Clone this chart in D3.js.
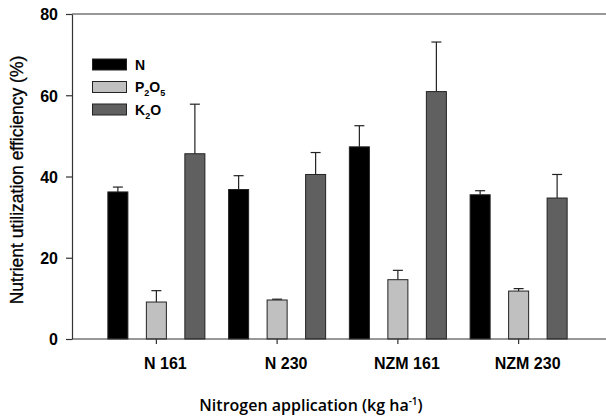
<!DOCTYPE html>
<html><head><meta charset="utf-8">
<script src="https://cdn.jsdelivr.net/npm/d3@7"></script>
<style>body{margin:0;background:#fff}svg{display:block}</style>
</head><body>
<svg id="c" width="606" height="418"></svg>
<script>
const categories = ["N 161", "N 230", "NZM 161", "NZM 230"];
const seriesNames = ["N", "P2O5", "K2O"];
const valuesN = [36.2, 36.8, 47.3, 35.5];
const valuesP = [9.1, 9.6, 14.6, 11.8];
const valuesK = [45.6, 40.5, 60.9, 34.7];
const errN = [1.2, 3.4, 5.2, 1.0];
const errP = [2.8, 0.2, 2.3, 0.6];
const errK = [12.2, 5.4, 12.2, 5.8];
const yTicks = [0, 20, 40, 60, 80];
const colors = ["#000000", "#c0c0c0", "#606060"];

const FONT = "'Liberation Sans', Arial, Helvetica, sans-serif";
const vals = [valuesN, valuesP, valuesK];
const errs = [errN, errP, errK];
const svg = d3.select("#c");
const x0 = d3.scaleBand().domain(categories).range([96, 579]).padding(0);
const x1 = d3.scaleBand().domain(seriesNames).range([-57.75, 57.75]).paddingInner(0.48).paddingOuter(0.24);
const y = d3.scaleLinear().domain([0, 80]).range([339, 14]);

// frame lines
svg.append("line").attr("x1", 72).attr("x2", 606).attr("y1", 14).attr("y2", 14).attr("stroke", "#333").attr("stroke-width", 1.2);

// bars
categories.forEach((c, i) => {
  const cx = x0(c) + x0.bandwidth() / 2;
  seriesNames.forEach((s, j) => {
    const v = vals[j][i], e = errs[j][i];
    const bx = cx + x1(s);
    const mid = bx + x1.bandwidth() / 2;
    svg.append("line").attr("x1", mid).attr("x2", mid).attr("y1", y(v)).attr("y2", y(v + e)).attr("stroke", "#222").attr("stroke-width", 1.2);
    svg.append("line").attr("x1", mid - 5).attr("x2", mid + 5).attr("y1", y(v + e)).attr("y2", y(v + e)).attr("stroke", "#222").attr("stroke-width", 1.2);
    svg.append("rect").attr("x", bx).attr("y", y(v)).attr("width", x1.bandwidth()).attr("height", y(0) - y(v))
      .attr("fill", colors[j]).attr("stroke", "#222").attr("stroke-width", 1);
  });
});

// y axis
const yAxis = svg.append("g").attr("transform", "translate(72,0)")
  .call(d3.axisLeft(y).tickValues(yTicks).tickSize(6).tickPadding(8).tickSizeOuter(0));
yAxis.select(".domain").attr("stroke", "#333").attr("stroke-width", 1.2);
yAxis.selectAll(".tick line").attr("stroke", "#333").attr("stroke-width", 1.2);
yAxis.selectAll("text").attr("font-family", FONT).attr("font-size", 16).attr("font-weight", "bold").attr("fill", "#000").attr("dy", "0.36em");

// x axis
const xAxis = svg.append("g").attr("transform", "translate(0,339)")
  .call(d3.axisBottom(x0).tickSize(5).tickPadding(14).tickSizeOuter(0));
xAxis.select(".domain").attr("d", "M72,0H606").attr("stroke", "#333").attr("stroke-width", 1.2);
xAxis.selectAll(".tick line").attr("stroke", "#333").attr("stroke-width", 1.2);
xAxis.selectAll("text").attr("font-family", FONT).attr("font-size", 16).attr("font-weight", "bold").attr("fill", "#000").attr("dx", 9);

// axis titles
svg.append("text").attr("transform", "translate(23,180) rotate(-90)").attr("text-anchor", "middle")
  .attr("font-family", FONT).attr("font-size", 17.5).attr("fill", "#000")
  .attr("stroke", "#000").attr("stroke-width", 0.3)
  .text("Nutrient utilization efficiency (%)");
const xt = svg.append("text").attr("x", 311).attr("y", 411).attr("text-anchor", "middle")
  .attr("font-family", "'Open Sans', 'Noto Sans', sans-serif").attr("font-size", 16).attr("font-weight", 600).attr("fill", "#000");
xt.append("tspan").text("Nitrogen application (kg ha");
xt.append("tspan").attr("dy", -6).attr("font-size", 10).text("-1");
xt.append("tspan").attr("dy", 6).text(")");

// legend
const legLabels = [["N", null, null, null], ["P", "2", "O", "5"], ["K", "2", "O", null]];
seriesNames.forEach((s, j) => {
  const ly = 59 + j * 22.5;
  svg.append("rect").attr("x", 92.5).attr("y", ly).attr("width", 34).attr("height", 11)
    .attr("fill", colors[j]).attr("stroke", "#222").attr("stroke-width", 1);
  const t = svg.append("text").attr("x", 135).attr("y", ly + 10.5)
    .attr("font-family", FONT).attr("font-size", 14).attr("font-weight", "bold").attr("fill", "#000");
  const p = legLabels[j];
  t.append("tspan").text(p[0]);
  if (p[1]) t.append("tspan").attr("dy", 4).attr("font-size", 9).text(p[1]);
  if (p[2]) t.append("tspan").attr("dy", -4).text(p[2]);
  if (p[3]) t.append("tspan").attr("dy", 4).attr("font-size", 9).text(p[3]);
});
</script>
</body></html>
